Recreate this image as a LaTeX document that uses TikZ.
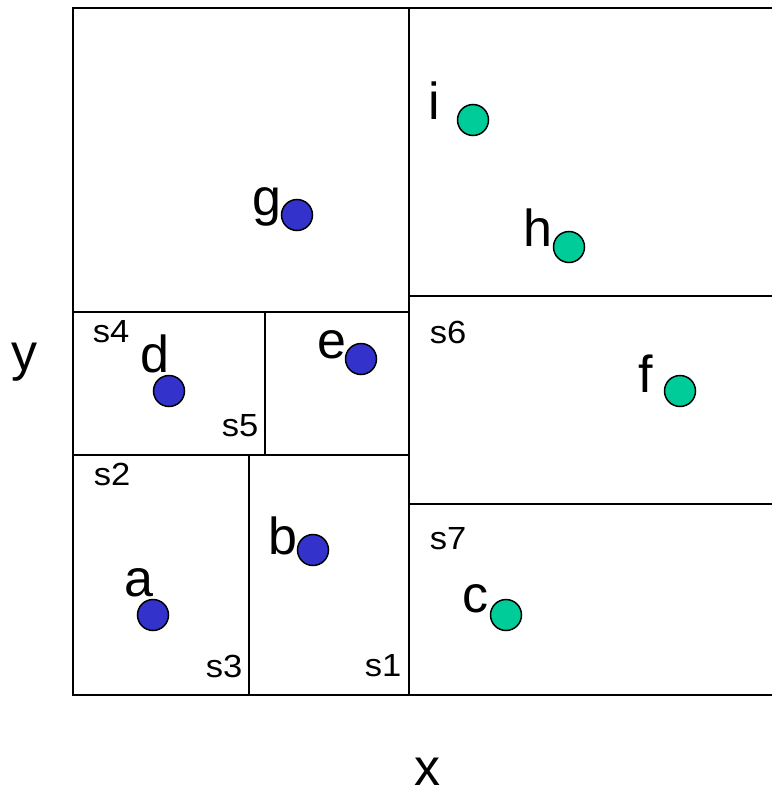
\documentclass[tikz,border=0pt]{standalone}
\usepackage{fontspec}
\setmainfont{Liberation Sans}
\definecolor{ptblue}{HTML}{3333CC}
\definecolor{ptgreen}{HTML}{00CC99}
\newcommand{\widelab}[1]{\scalebox{1.08}[1]{#1}}
\tikzset{
  seg/.style={line width=2.2pt},
  bluept/.style={circle,draw=black,line width=1.5pt,fill=ptblue,minimum size=31pt,inner sep=0pt},
  greenpt/.style={circle,draw=black,line width=1.5pt,fill=ptgreen,minimum size=31pt,inner sep=0pt},
  biglab/.style={inner sep=0pt,font=\fontsize{52}{52}\selectfont},
  smalllab/.style={inner sep=0pt,font=\fontsize{32}{32}\selectfont},
}
\begin{document}
\begin{tikzpicture}[x=1pt,y=-1pt]
\useasboundingbox (0,0) rectangle (772,795);
% frame coordinates
\coordinate (tl) at (73,8);
\coordinate (tr) at (772,8);
\coordinate (bl) at (73,695);
\coordinate (br) at (772,695);
\coordinate (mt) at (409,8);
\coordinate (mb) at (409,695);
\draw[seg] (tr) -- (tl) -- (bl) -- (br);
\draw[seg] (mt) -- (mb);
% left subdivisions
\coordinate (h1l) at (73,312); \coordinate (h1r) at (409,312);
\coordinate (h2l) at (73,455); \coordinate (h2r) at (409,455);
\draw[seg] (h1l) -- (h1r);
\draw[seg] (h2l) -- (h2r);
\coordinate (v1t) at (265,312); \coordinate (v1b) at (265,455);
\coordinate (v2t) at (249,455); \coordinate (v2b) at (249,695);
\draw[seg] (v1t) -- (v1b);
\draw[seg] (v2t) -- (v2b);
% right subdivisions
\coordinate (r1l) at (409,296); \coordinate (r1r) at (772,296);
\coordinate (r2l) at (409,504); \coordinate (r2r) at (772,504);
\draw[seg] (r1l) -- (r1r);
\draw[seg] (r2l) -- (r2r);
% points
\node[greenpt] (pi) at (473,120) {};
\node[greenpt] (ph) at (569,247) {};
\node[bluept] (pg) at (297,215) {};
\node[bluept] (pd) at (169,391) {};
\node[bluept] (pe) at (361,359) {};
\node[greenpt] (pf) at (680,391) {};
\node[bluept] (pb) at (313,550) {};
\node[bluept] (pa) at (153,615) {};
\node[greenpt] (pc) at (506,615) {};
% point labels
\node[biglab] (li) at (434,101) {i};
\node[biglab] (lh) at (538,228) {h};
\node[biglab] (lg) at (267,207) {g};
\node[biglab] (ld) at (155,354) {d};
\node[biglab] (le) at (332,345) {e};
\node[biglab] (lf) at (646,374) {f};
\node[biglab] (lb) at (283,536) {b};
\node[biglab] (la) at (139,583) {a};
\node[biglab] (lc) at (475,599) {c};
% region labels
\node[smalllab] (s4) at (111,332) {\widelab{s4}};
\node[smalllab] (s5) at (240,426) {\widelab{s5}};
\node[smalllab] (s2) at (112,474) {\widelab{s2}};
\node[smalllab] (s3) at (224,666) {\widelab{s3}};
\node[smalllab] (s1) at (383,666) {\widelab{s1}};
\node[smalllab] (s6) at (448,332) {\widelab{s6}};
\node[smalllab] (s7) at (448,539) {\widelab{s7}};
% axis labels
\node[biglab] (ay) at (25,362) {y};
\node[biglab] (ax) at (427,772) {x};
\end{tikzpicture}
\end{document}
